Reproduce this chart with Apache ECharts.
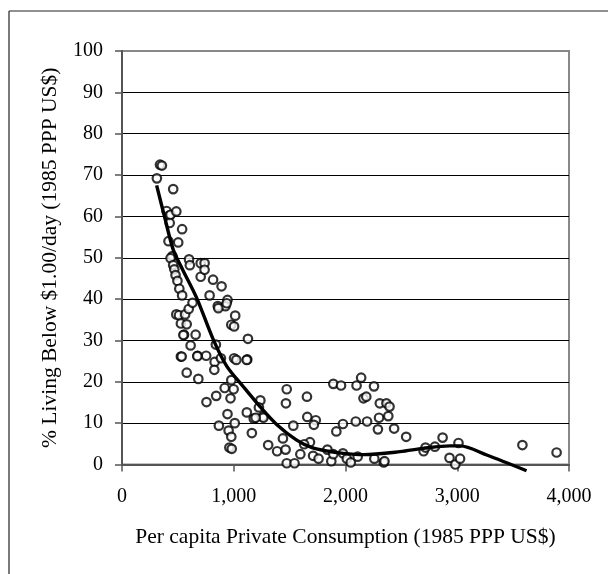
<!DOCTYPE html>
<html>
<head>
<meta charset="utf-8">
<script src="https://cdn.jsdelivr.net/npm/echarts@6/dist/echarts.min.js"></script>
<style>
html,body{margin:0;padding:0;background:#fff;}
#chart{width:608px;height:574px;}
</style>
</head>
<body>
<div id="chart"></div>
<script>
// Scatter: per capita consumption (x) vs % below $1/day (y)
const consumption = [312,340,357,399,423,434,458,486,427,416,503,538,451,434,458,468,479,496,513,538,
  486,510,527,565,579,555,597,631,614,527,579,659,676,683,600,607,704,739,704,739,
  784,815,891,857,944,926,978,1013,1003,753,840,829,826,885,1003,1023,1127,1121,756,843,
  919,978,999,971,944,867,954,978,961,982,1009,1117,1179,1162,1238,1225,1259,1308,1388,1440,
  1464,1474,1544,1474,1467,1533,1596,1655,1658,1682,1630,1734,1717,1710,1759,1838,1873,1891,1891,1960,
  1918,1977,1977,2012,2047,2099,2140,2161,2186,2092,2193,2109,2255,2258,2307,2366,2394,2383,2300,2290,
  2435,2342,2349,2543,2699,2716,2800,2869,2931,2983,3025,3011,3583,3889,
  549,534,937,862,1265,1196,1116,674];
const poverty = [69.2,72.5,72.3,61.3,60.2,60.4,66.6,61.2,58.4,54,53.7,56.9,50.4,49.9,48.2,47.2,45.8,44.4,42.5,40.9,
  36.3,36.1,34.1,36.3,33.9,31.4,37.6,39.1,28.8,26.1,22.2,31.4,26.3,20.7,49.6,48.2,48.7,48.7,45.4,47.1,
  40.9,44.7,43.1,38.3,39.8,38.3,33.8,36,33.4,26.3,29,24.8,22.9,25.7,25.7,25.3,30.4,25.4,15.1,16.6,
  18.5,20.4,18.2,16,12.2,9.4,8.2,6.7,4.1,3.8,10,12.6,11.1,7.6,15.5,13.8,11.6,4.7,3.2,6.3,
  3.6,0.3,0.3,18.2,14.8,9.4,2.5,16.4,11.5,5.4,4.9,10.7,9.6,2.1,1.4,3.6,0.8,2.5,19.5,19.1,
  8,9.8,2.7,1.4,0.5,19.1,21,16,16.4,10.4,10.4,1.9,18.9,1.4,14.8,14.8,14,11.7,11.3,8.5,
  8.7,0.5,0.8,6.7,3.2,4.1,4.3,6.5,1.6,0,1.4,5.2,4.7,2.9,
  31.3,26.1,39,37.8,11.3,11.3,25.3,26.2];
// Fitted (lowess-style) trend line
const trendX = [310,380,459,545,668,817,937,1086,1235,1384,1563,1700,1850,1980,2160,2488,2696,2935,3025,3264,3620];
const trendY = [67.5,60,51.9,47,40.3,30.2,23.8,18.8,14,9.7,5.9,4.1,3.2,2.7,2.4,3.1,3.9,4.5,4.5,2.3,-1.5];
// Axis ticks
const yTicks = [0,10,20,30,40,50,60,70,80,90,100];
const xTicks = [0,1000,2000,3000,4000];

const scatterData = consumption.map((x,i)=>[x,poverty[i]]);
const trendData = trendX.map((x,i)=>[x,trendY[i]]);
const FONT = "'Liberation Serif','Times New Roman',serif";
const gridColors = yTicks.map((v,i)=> i===yTicks.length-1 ? '#888' : '#000');

const chart = echarts.init(document.getElementById('chart'), null, {renderer:'canvas'});
chart.setOption({
  animation:false,
  backgroundColor:'#fff',
  grid:{left:122,right:39,top:51,bottom:109.5,show:true,borderColor:'#888',borderWidth:2,backgroundColor:'transparent'},
  graphic:[
    {type:'line',shape:{x1:9,y1:11,x2:608,y2:11},style:{stroke:'#222',lineWidth:1.2},z:100},
    {type:'line',shape:{x1:9,y1:11,x2:9,y2:574},style:{stroke:'#222',lineWidth:1.2},z:100}
  ],
  xAxis:{
    type:'value',min:xTicks[0],max:xTicks[xTicks.length-1],interval:1000,
    name:'Per capita Private Consumption (1985 PPP US$)',nameLocation:'middle',nameGap:62,
    nameTextStyle:{fontFamily:FONT,fontSize:21.5,color:'#000'},
    axisLine:{show:true,lineStyle:{color:'#555',width:2}},
    axisTick:{show:true,inside:false,length:7,lineStyle:{color:'#555',width:1.5}},
    axisLabel:{fontFamily:FONT,fontSize:20,color:'#000',margin:22,
      formatter:v=>v.toLocaleString('en-US')},
    splitLine:{show:false}
  },
  yAxis:{
    type:'value',min:yTicks[0],max:yTicks[yTicks.length-1],interval:10,
    name:'% Living Below $1.00/day (1985 PPP US$)',nameLocation:'middle',nameGap:61,
    nameTextStyle:{fontFamily:FONT,fontSize:21.5,color:'#000'},
    axisLine:{show:true,lineStyle:{color:'#555',width:2}},
    axisTick:{show:true,inside:false,length:7,lineStyle:{color:'#555',width:1.5}},
    axisLabel:{fontFamily:FONT,fontSize:20,color:'#000',margin:19},
    splitLine:{show:true,lineStyle:{color:gridColors,width:1}}
  },
  series:[
    {type:'scatter',data:scatterData,symbol:'circle',symbolSize:8.5,
     itemStyle:{color:'#fff',borderColor:'#000',borderWidth:2.2},z:3},
    {type:'line',data:trendData,smooth:0.3,showSymbol:false,symbol:'none',clip:false,
     lineStyle:{color:'#000',width:3.4},z:4}
  ]
});
</script>
</body>
</html>
